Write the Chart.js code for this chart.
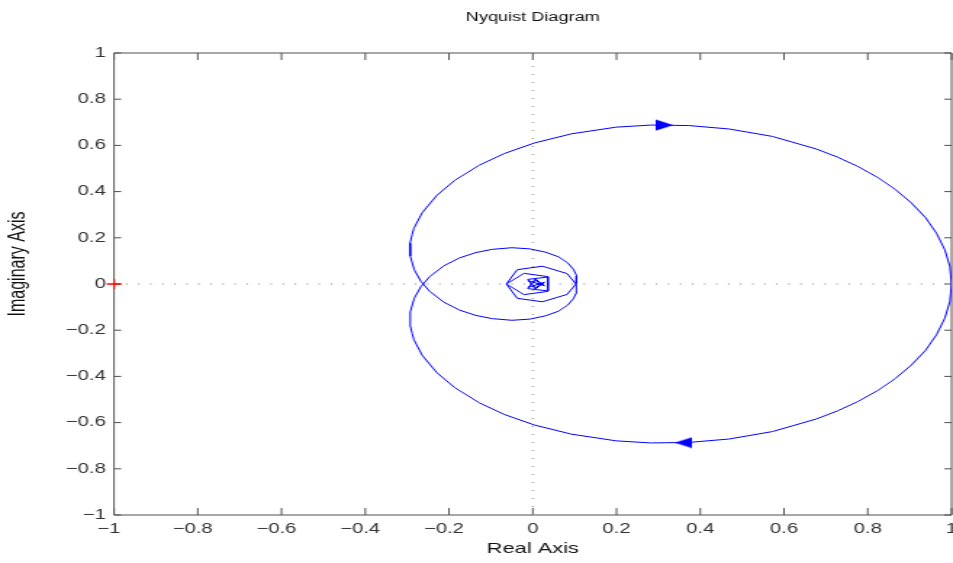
<!DOCTYPE html>
<html>
<head>
<meta charset="utf-8">
<script src="https://cdn.jsdelivr.net/npm/chart.js@4/dist/chart.umd.min.js"></script>
<style>
  html, body { margin: 0; padding: 0; background: #fff; overflow: hidden; }
  /* the reference figure is stretched sideways, so the canvas is too */
  #wrap { width: 657px; height: 563px; transform: scaleX(1.4505); transform-origin: 0 0; }
  canvas { display: block; }
</style>
</head>
<body>
<div id="wrap"><canvas id="nyq" width="657" height="563" style="width:657px;height:563px"></canvas></div>
<script>
// positive frequencies, from w = 0 (point 1,0) into the spiral at the origin
const realPos = [1, 0.996, 0.984, 0.964, 0.938, 0.904, 0.866, 0.823, 0.776, 0.727,
  0.676, 0.572, 0.469, 0.372, 0.282, 0.199, 0.092, 0.003, -0.069, -0.127,
  -0.186, -0.229, -0.264, -0.284, -0.288, -0.293, -0.293, -0.292, -0.283, -0.267,
  -0.246, -0.213, -0.175, -0.136, -0.097, -0.050, -0.007, 0.030, 0.061, 0.083,
  0.097, 0.105, 0.104, 0.082, 0.023, -0.037, -0.063, -0.021, 0.036, 0.036,
  -0.012, 0.006, 0.028, -0.011, 0.006, 0.026, 0.010];
const imagPos = [0, -0.075, -0.148, -0.220, -0.287, -0.351, -0.409, -0.462, -0.509, -0.550,
  -0.585, -0.639, -0.671, -0.686, -0.688, -0.679, -0.650, -0.610, -0.564, -0.515,
  -0.449, -0.384, -0.309, -0.240, -0.214, -0.177, -0.142, -0.121, -0.062, -0.011,
  0.032, 0.078, 0.113, 0.136, 0.150, 0.157, 0.152, 0.138, 0.118, 0.092,
  0.064, 0.035, 0.002, -0.045, -0.077, -0.062, 0, 0.046, 0.032, -0.030,
  -0.020, 0.022, -0.008, 0.015, -0.016, 0.004, -0.004];
// negative frequencies are the mirror image
const realNeg = realPos.slice();
const imagNeg = imagPos.map(v => -v);

// direction arrows
const arrowX = [0.315, 0.36];
const arrowY = [0.688, -0.687];
const arrowRot = [0, 180];

// critical point -1
const critX = [-1];
const critY = [0];

const tickVals = [-1, -0.8, -0.6, -0.4, -0.2, 0, 0.2, 0.4, 0.6, 0.8, 1];
const xTickLabels = ['\u22121\u2002', '\u22120.8\u2002', '\u22120.6\u2002', '\u22120.4\u2002', '\u22120.2\u2002', '0', '0.2', '0.4', '0.6', '0.8', '1'];
const yTickLabels = ['\u22121', '\u22120.8', '\u22120.6', '\u22120.4', '\u22120.2', '0', '0.2', '0.4', '0.6', '0.8', '1'];

const pts = (xs, ys) => xs.map((x, i) => ({ x: x, y: ys[i] }));

function arrowImg() {
  const c = document.createElement('canvas');
  c.width = 12; c.height = 12;
  const g = c.getContext('2d');
  g.fillStyle = '#0000ff';
  g.beginPath();
  g.moveTo(0, 0.5); g.lineTo(12, 6); g.lineTo(0, 11.5);
  g.closePath();
  g.fill();
  return c;
}
const arrow = arrowImg();

// box round the axes with inward ticks on all four sides
const axesBox = {
  id: 'axesBox',
  beforeDatasetsDraw(chart) {
    const { ctx, chartArea: a, scales: { x, y } } = chart;
    ctx.save();
    ctx.strokeStyle = '#505050';
    ctx.lineWidth = 1;
    ctx.beginPath();
    ctx.rect(a.left, a.top, a.right - a.left, a.bottom - a.top);
    tickVals.forEach(v => {
      const px = x.getPixelForValue(v);
      ctx.moveTo(px, a.bottom); ctx.lineTo(px, a.bottom - 7);
      ctx.moveTo(px, a.top); ctx.lineTo(px, a.top + 7);
      const py = y.getPixelForValue(v);
      ctx.moveTo(a.left, py); ctx.lineTo(a.left + 5, py);
      ctx.moveTo(a.right, py); ctx.lineTo(a.right - 5, py);
    });
    ctx.stroke();
    ctx.restore();
  }
};

const font = 'Liberation Sans';
const fixTicks = s => { s.ticks = tickVals.map(v => ({ value: v })); };

new Chart(document.getElementById('nyq'), {
  type: 'scatter',
  data: {
    datasets: [
      { data: pts(arrowX, arrowY), pointStyle: arrow, pointRotation: arrowRot, pointRadius: 6, showLine: false },
      { data: pts(critX, critY), pointStyle: 'cross', pointRadius: 5, borderColor: '#ff0000', borderWidth: 1.3, clip: false },
      { data: pts(realPos, imagPos), showLine: true, borderColor: '#0000ff', borderWidth: 1, pointRadius: 0, tension: 0 },
      { data: pts(realNeg, imagNeg), showLine: true, borderColor: '#0000ff', borderWidth: 1, pointRadius: 0, tension: 0 },
      { data: [{ x: -1, y: 0 }, { x: 1, y: 0 }], showLine: true, borderColor: '#808080', borderWidth: 1, borderDash: [1, 7.3], pointRadius: 0 },
      { data: [{ x: 0, y: -1 }, { x: 0, y: 1 }], showLine: true, borderColor: '#808080', borderWidth: 1, borderDash: [1, 7], pointRadius: 0 }
    ]
  },
  options: {
    responsive: false,
    animation: false,
    devicePixelRatio: 1,
    layout: { autoPadding: false, padding: { left: 0, right: 1, top: 0, bottom: 0 } },
    plugins: {
      legend: { display: false },
      tooltip: { enabled: false },
      title: {
        display: true, fullSize: false, text: 'Nyquist Diagram', color: '#111',
        font: { family: font, size: 12.5, weight: 'normal' },
        padding: { top: 10.5, bottom: 27.5 }
      }
    },
    scales: {
      x: {
        type: 'linear', min: -1, max: 1,
        afterBuildTicks: fixTicks,
        afterFit: s => { s.height = 48; s.paddingLeft = 0; s.paddingRight = 0; },
        grid: { display: false, drawTicks: false }, border: { display: false },
        ticks: {
          color: '#333', padding: 6, maxRotation: 0, autoSkip: false,
          font: { family: font, size: 14 },
          callback: (v, i) => xTickLabels[i]
        },
        title: {
          display: true, text: 'Real Axis', color: '#111',
          font: { family: font, size: 15 }, padding: { top: 0, bottom: 5 }
        }
      },
      y: {
        type: 'linear', min: -1, max: 1,
        afterBuildTicks: fixTicks,
        afterFit: s => { s.width = 78.6; s.paddingTop = 0; s.paddingBottom = 0; },
        grid: { display: false, drawTicks: false }, border: { display: false },
        ticks: {
          color: '#333', padding: 5.6, autoSkip: false,
          font: { family: font, size: 14 },
          callback: (v, i) => yTickLabels[i]
        },
        title: {
          display: true, text: '\u2002\u2002\u2002\u2002\u2002Imaginary Axis', color: '#111',
          font: { family: font, size: 16 }, padding: { top: 2.8, bottom: 0 }
        }
      }
    }
  },
  plugins: [axesBox]
});
</script>
</body>
</html>
